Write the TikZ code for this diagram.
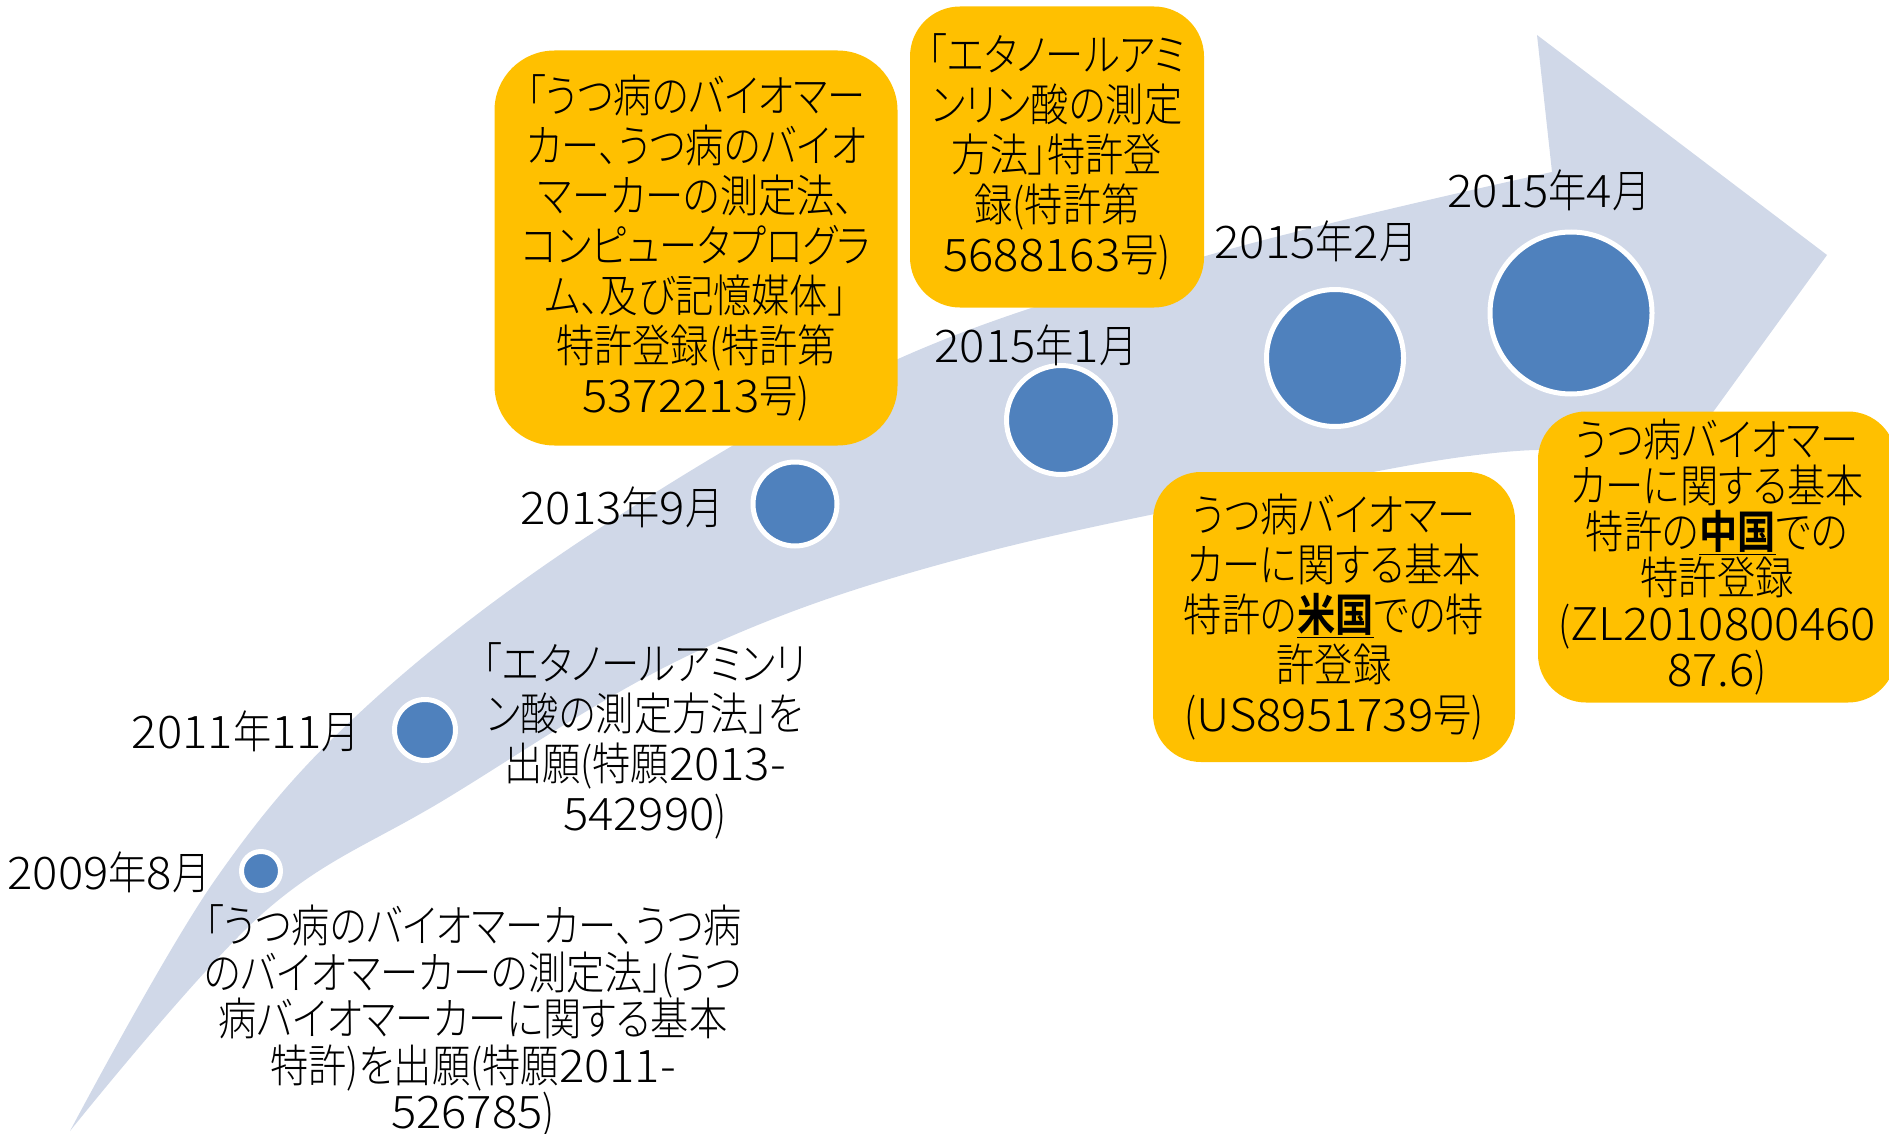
\documentclass[tikz,border=0pt]{standalone}
\usepackage{fontspec}
\setmainfont{Noto Sans CJK JP Light}[FakeStretch=0.85,RawFeature=+palt,BoldFont={Noto Sans CJK JP Bold}]
\newfontfamily\numfont{Noto Sans CJK JP Light}[FakeStretch=1.05]
\newcommand\numtxt[1]{{\numfont#1}}
\definecolor{bandblue}{HTML}{D0D8E8}
\definecolor{dotblue}{HTML}{4F81BD}
\definecolor{boxgold}{HTML}{FFC000}

\begin{document}
\begin{tikzpicture}[x=1pt,y=-1pt,
  dot/.style={circle,fill=dotblue,draw=white,line width=5pt,inner sep=0pt},
  datelbl/.style={inner sep=0pt,font=\fontsize{45}{50}\selectfont},
  note/.style={align=center,inner sep=0pt,font=\fontsize{45}{50}\selectfont},
  patbox/.style={note,fill=boxgold}]
\useasboundingbox (0,0) rectangle (1889,1134);

% the curved arrow

\fill[bandblue] plot[smooth,tension=0.6] coordinates {(70,1131) (215,880) (368,705) (597,530) (898,359) (1216,253) (1552,172)}
  -- (1537,35) -- (1827,255) -- (1700,430)
  -- plot[smooth,tension=0.6] coordinates {(1537,450) (1400,467) (986,552) (700,650) (444,800) (262,914) (70,1131)} -- cycle;

% dots, growing along the arrow

\node[dot,minimum size=39] (d09) at (261,871) {};
\node[dot,minimum size=61] (d11) at (425,730) {};
\node[dot,minimum size=84] (d13) at (795,504) {};
\node[dot,minimum size=109] (d15a) at (1061,420) {};
\node[dot,minimum size=137] (d15b) at (1335,358) {};
\node[dot,minimum size=162] (d15c) at (1571,313) {};

% dates

\node[datelbl] (t09) at (109,872) {\numtxt{2009}年\numtxt{8}月};
\node[datelbl] (t11) at (246,731) {\numtxt{2011}年\numtxt{11}月};
\node[datelbl] (t13) at (622,507) {\numtxt{2013}年\numtxt{9}月};
\node[datelbl] (t15a) at (1036,345) {\numtxt{2015}年\numtxt{1}月};
\node[datelbl] (t15b) at (1316,241) {\numtxt{2015}年\numtxt{2}月};
\node[datelbl] (t15c) at (1549,190) {\numtxt{2015}年\numtxt{4}月};

% applications

\node[note,font=\fontsize{45}{46.5}\selectfont] (n09) at (473,1021)
  {「うつ病のバイオマーカー、うつ病\\のバイオマーカーの測定法」(うつ\\病バイオマーカーに関する基本\\特許)を出願(特願\numtxt{2011-}\\\numtxt{526785})};
\node[note] (n11) at (645,741)
  {「エタノールアミンリ\\ン酸の測定方法」を\\出願(特願\numtxt{2013-}\\\numtxt{542990})};

% registrations

\node[patbox,minimum width=403,minimum height=395,rounded corners=60] (pA) at (696,248)
  {「うつ病のバイオマー\\カー、うつ病のバイオ\\マーカーの測定法、\\コンピュータプログラ\\ム、及び記憶媒体」\\特許登録(特許第\\\numtxt{5372213}号)};
\node[patbox,minimum width=294,minimum height=301,rounded corners=50] (pB) at (1057,157)
  {「エタノールアミ\\ンリン酸の測定\\方法」特許登\\録(特許第\\\numtxt{5688163}号)};
\node[patbox,minimum width=362,minimum height=290,rounded corners=48] (pC) at (1334,617)
  {うつ病バイオマー\\カーに関する基本\\特許の\underline{\textbf{米国}}での特\\許登録\\(\numtxt{US8951739}号)};
\node[patbox,font=\fontsize{45}{46}\selectfont,minimum width=358,minimum height=291,rounded corners=48] (pD) at (1717,557)
  {うつ病バイオマー\\カーに関する基本\\特許の\underline{\textbf{中国}}での\\特許登録\\(\numtxt{ZL2010800460}\\\numtxt{87.6})};

\end{tikzpicture}
\end{document}
